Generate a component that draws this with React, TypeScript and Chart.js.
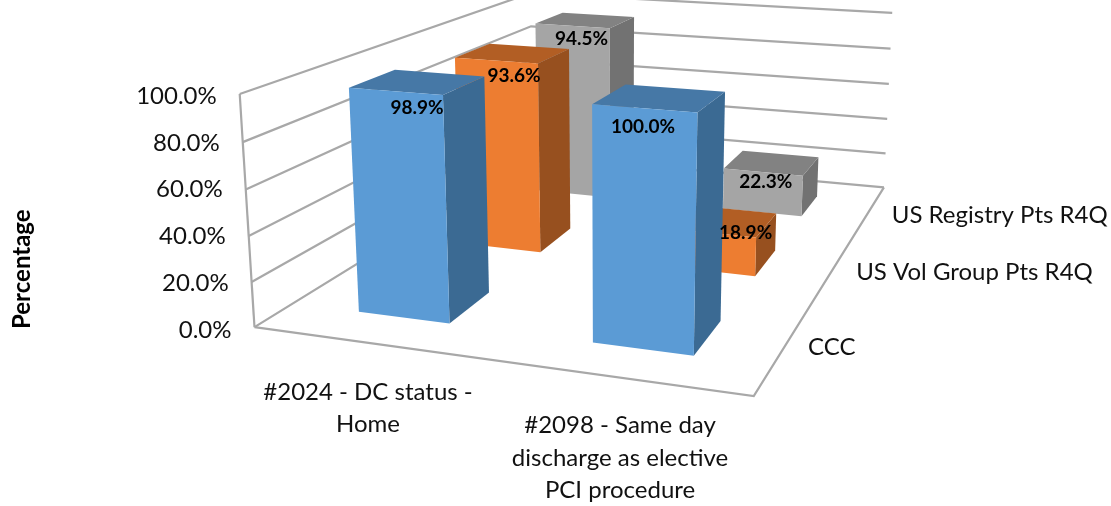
import React, { useEffect, useRef } from "react";
import { Chart, registerables } from "chart.js";

Chart.register(...registerables);

const categories = [
  ["#2024 - DC status -", "Home"],
  ["#2098 - Same day", "discharge as elective", "PCI procedure"],
];
const seriesNames = ["CCC", "US Vol Group Pts R4Q", "US Registry Pts R4Q"];
const cccValues = [98.9, 100.0];
const usVolValues = [93.6, 18.9];
const usRegistryValues = [94.5, 22.3];
const axisTitle = "Percentage";

const FONT = "Lato, sans-serif";
const LINE = "#A8A8A8";
const faces = [
  { front: "#5B9BD5", side: "#3B6A93", top: "#4678A6" },
  { front: "#ED7D31", side: "#97501F", top: "#B25E24" },
  { front: "#A5A5A5", side: "#727272", top: "#828282" },
];

// The box of the 3-D room: (across, depth, height) and where its corners fall on the page.
const ROOM: number[][] = [
  [0, 0, 0, 253, 328],
  [1, 0, 0, 754, 395],
  [1, 1, 0, 883, 189],
  [0, 1, 0, 534.5, 154],
  [0, 0, 1, 241, 94],
  [0, 1, 1, 529, -6],
  [1, 1, 1, 893, 12],
];

const valueNudge = [
  [[-1, 26], [-17, 29]],
  [[1, 23], [23, 12]],
  [[-4, 19], [-6, 19]],
];
const seriesNudge = [[24, 0], [24, 2], [23, 4]];
const categoryNudge = [[-1, 49], [2, 48]];

function solveProjection(): number[] {
  const rows: number[][] = [];
  const rhs: number[] = [];
  for (const [u, v, h, x, y] of ROOM) {
    rows.push([u, v, h, 1, 0, 0, 0, 0, -x * u, -x * v, -x * h]);
    rhs.push(x);
    rows.push([0, 0, 0, 0, u, v, h, 1, -y * u, -y * v, -y * h]);
    rhs.push(y);
  }
  const n = 11;
  const a = Array.from({ length: n }, (_, i) =>
    Array.from({ length: n + 1 }, (_, j) =>
      rows.reduce((s, r, k) => s + r[i] * (j < n ? r[j] : rhs[k]), 0)
    )
  );
  for (let c = 0; c < n; c++) {
    let p = c;
    for (let r = c + 1; r < n; r++) if (Math.abs(a[r][c]) > Math.abs(a[p][c])) p = r;
    [a[c], a[p]] = [a[p], a[c]];
    for (let r = 0; r < n; r++) {
      if (r === c) continue;
      const f = a[r][c] / a[c][c];
      for (let j = c; j <= n; j++) a[r][j] -= f * a[c][j];
    }
  }
  return a.map((row, i) => row[n] / row[i]);
}
const M = solveProjection();
function project(u: number, v: number, h: number): [number, number] {
  const w = M[8] * u + M[9] * v + M[10] * h + 1;
  return [
    (M[0] * u + M[1] * v + M[2] * h + M[3]) / w,
    (M[4] * u + M[5] * v + M[6] * h + M[7]) / w,
  ];
}

function poly(ctx: CanvasRenderingContext2D, pts: [number, number][], fill: string) {
  ctx.beginPath();
  pts.forEach((p, i) => (i ? ctx.lineTo(p[0], p[1]) : ctx.moveTo(p[0], p[1])));
  ctx.closePath();
  ctx.fillStyle = fill;
  ctx.fill();
}
function stroke(ctx: CanvasRenderingContext2D, pts: [number, number][]) {
  ctx.beginPath();
  pts.forEach((p, i) => (i ? ctx.lineTo(p[0], p[1]) : ctx.moveTo(p[0], p[1])));
  ctx.strokeStyle = LINE;
  ctx.lineWidth = 2.2;
  ctx.lineJoin = "miter";
  ctx.stroke();
}

const room3d = {
  id: "room3d",
  beforeDraw(chart: any) {
    const yScale = chart.scales.y;
    const xScale = chart.scales.x;
    yScale.getLabelItems(chart.chartArea).forEach((item: any, i: number) => {
      const h = (yScale.bottom - yScale.getPixelForTick(i)) / (yScale.bottom - yScale.top);
      item.options.translation[0] = project(0, 0, h)[0] - 23;
      item.options.translation[1] = yScale.getPixelForTick(i) + 1;
    });
    const width = xScale.right - xScale.left;
    xScale.getLabelItems(chart.chartArea).forEach((item: any, i: number) => {
      const u = (xScale.getPixelForTick(i) - xScale.left) / width;
      const p = project(u, 0, 0);
      item.options.translation[0] = p[0] + categoryNudge[i][0];
      item.options.translation[1] = p[1] + categoryNudge[i][1] - 16;
    });
  },
  beforeDatasetsDraw(chart: any) {
    const ctx: CanvasRenderingContext2D = chart.ctx;
    const xScale = chart.scales.x;
    const yScale = chart.scales.y;
    const toU = (px: number) => (px - xScale.left) / (xScale.right - xScale.left);
    const toH = (px: number) => (yScale.bottom - px) / (yScale.bottom - yScale.top);

    // walls: one line per tick of the value scale
    yScale.ticks.forEach((_: any, i: number) => {
      const h = toH(yScale.getPixelForTick(i));
      stroke(ctx, [project(0, 0, h), project(0, 1, h), project(1, 1, h)]);
    });
    stroke(ctx, [project(0, 0, 0), project(0, 0, 1)]);
    stroke(ctx, [project(0, 0, 0), project(1, 0, 0), project(1, 1, 0)]);

    const n = chart.data.datasets.length;
    const depth = 0.4 / n;
    const labels: any[] = [];
    for (let s = n - 1; s >= 0; s--) {
      const meta = chart.getDatasetMeta(s);
      const v0 = (s + 0.5) / n - depth / 2;
      const v1 = v0 + depth;
      const c = faces[s];
      meta.data.forEach((bar: any, i: number) => {
        const u0 = toU(bar.x - bar.width / 2);
        const u1 = toU(bar.x + bar.width / 2);
        const h = toH(bar.y);
        poly(ctx, [project(u1, v0, 0), project(u1, v1, 0), project(u1, v1, h), project(u1, v0, h)], c.side);
        poly(ctx, [project(u0, v0, h), project(u1, v0, h), project(u1, v1, h), project(u0, v1, h)], c.top);
        poly(ctx, [project(u0, v0, 0), project(u1, v0, 0), project(u1, v0, h), project(u0, v0, h)], c.front);
        const a = project((u0 + u1) / 2, (v0 + v1) / 2, h);
        labels.push({
          x: a[0] + valueNudge[s][i][0],
          y: a[1] + valueNudge[s][i][1],
          text: chart.data.datasets[s].data[i].toFixed(1) + "%",
        });
      });
    }
    ctx.fillStyle = "#000";
    ctx.textAlign = "center";
    ctx.textBaseline = "middle";
    ctx.font = `bold 19px ${FONT}`;
    labels.forEach((l) => ctx.fillText(l.text, l.x, l.y));

    ctx.font = `24px ${FONT}`;
    ctx.textAlign = "left";
    ctx.fillStyle = "#111";
    chart.data.datasets.forEach((d: any, s: number) => {
      const p = project(1, (s + 0.5) / n, 0);
      ctx.fillText(d.label, p[0] + seriesNudge[s][0], p[1] + seriesNudge[s][1]);
    });
    return false;
  },
};

export default function App() {
  const ref = useRef<HTMLCanvasElement>(null);
  useEffect(() => {
    const chart = new Chart(ref.current!, {
      type: "bar",
      data: {
        labels: categories as any,
        datasets: [cccValues, usVolValues, usRegistryValues].map((data, s) => ({
          label: seriesNames[s],
          data,
          backgroundColor: faces[s].front,
          grouped: false,
          categoryPercentage: 0.4,
          barPercentage: 1,
        })),
      },
      options: {
        animation: false,
        responsive: false,
        layout: { padding: { top: 95, right: 228, left: 0, bottom: 0 } },
        plugins: { legend: { display: false }, tooltip: { enabled: false } },
        scales: {
          x: {
            grid: { display: false },
            border: { display: false },
            ticks: {
              color: "#111",
              font: { family: FONT, size: 24, lineHeight: 1.35 },
              maxRotation: 0,
              autoSkip: false,
            },
            afterFit: (s: any) => {
              s.height = 177;
            },
          },
          y: {
            min: 0,
            max: 100,
            grid: { display: false },
            border: { display: false },
            ticks: {
              stepSize: 20,
              color: "#111",
              font: { family: FONT, size: 24 },
              callback: (v: any) => Number(v).toFixed(1) + "%",
            },
            title: {
              display: true,
              text: axisTitle,
              align: "start",
              color: "#000",
              font: { family: FONT, size: 24, weight: "bold" },
              padding: { top: 8, bottom: 0 },
            },
            afterFit: (s: any) => {
              s.width = 253;
            },
          },
        },
      },
      plugins: [room3d as any],
    } as any);
    return () => chart.destroy();
  }, []);
  return (
    <canvas
      ref={ref}
      width={1111}
      height={506}
      style={{ position: "absolute", left: 0, top: 0, display: "block" }}
    />
  );
}
